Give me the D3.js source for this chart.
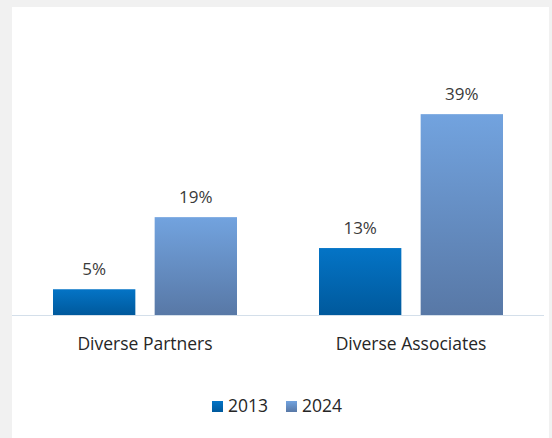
<!DOCTYPE html>
<html>
<head>
<meta charset="utf-8">
<script src="https://cdn.jsdelivr.net/npm/d3@7"></script>
<style>
  html, body { margin: 0; padding: 0; background: #f1f1f1; }
  #chart { position: absolute; left: 12px; top: 7px; width: 537px; height: 431px; background: #fff; }
  svg { display: block; font-family: "Open Sans", "Noto Sans", sans-serif; }
</style>
</head>
<body>
<div id="chart"></div>
<script>
// chart values
const categories = ["Diverse Partners", "Diverse Associates"];
const seriesNames = ["2013", "2024"];
const values2013 = [5, 13];
const values2024 = [19, 39];
const labels2013 = ["5%", "13%"];
const labels2024 = ["19%", "39%"];

const width = 537;
const height = 431;
const baseline = 308;

// bar colours (top, bottom of gradient)
const colors = {
  "2013": ["#0474c6", "#00599c"],
  "2024": ["#72a3df", "#5878a6"]
};

const svg = d3.select("#chart")
  .append("svg")
  .attr("width", width)
  .attr("height", height);

// gradients
const defs = svg.append("defs");
seriesNames.forEach((s) => {
  const g = defs.append("linearGradient")
    .attr("id", "grad" + s)
    .attr("x1", 0).attr("y1", 0)
    .attr("x2", 0).attr("y2", 1);
  g.append("stop").attr("offset", "0%").attr("stop-color", colors[s][0]);
  g.append("stop").attr("offset", "100%").attr("stop-color", colors[s][1]);
});

// scales
const x0 = d3.scaleBand()
  .domain(categories)
  .range([0, 532]);

const x1 = d3.scaleBand()
  .domain(seriesNames)
  .range([41, 225])
  .paddingInner(0.19);

const y = d3.scaleLinear()
  .domain([0, 40])
  .range([baseline, baseline - 206]);

const data = [];
categories.forEach((c, i) => {
  data.push({ cat: c, series: "2013", value: values2013[i], label: labels2013[i] });
  data.push({ cat: c, series: "2024", value: values2024[i], label: labels2024[i] });
});

// bars
svg.selectAll("rect.bar")
  .data(data)
  .enter()
  .append("rect")
  .attr("class", "bar")
  .attr("x", (d) => x0(d.cat) + x1(d.series))
  .attr("y", (d) => y(d.value))
  .attr("width", x1.bandwidth())
  .attr("height", (d) => baseline - y(d.value))
  .attr("fill", (d) => "url(#grad" + d.series + ")");

// value labels
svg.selectAll("text.val")
  .data(data)
  .enter()
  .append("text")
  .attr("class", "val")
  .attr("x", (d) => x0(d.cat) + x1(d.series) + x1.bandwidth() / 2)
  .attr("y", (d) => y(d.value) - 14)
  .attr("text-anchor", "middle")
  .style("font-size", "17px")
  .style("fill", "#3a3a3a")
  .text((d) => d.label);

// x-axis line
svg.append("line")
  .attr("x1", 0)
  .attr("x2", 532)
  .attr("y1", baseline + 0.5)
  .attr("y2", baseline + 0.5)
  .attr("stroke", "#d4dfea")
  .attr("stroke-width", 1);

// category labels
svg.selectAll("text.cat")
  .data(categories)
  .enter()
  .append("text")
  .attr("class", "cat")
  .attr("x", (d) => x0(d) + x0.bandwidth() / 2)
  .attr("y", 343)
  .attr("text-anchor", "middle")
  .style("font-size", "17.5px")
  .style("fill", "#262626")
  .text((d) => d);

// legend
const legendX = [200, 274];
const legend = svg.selectAll("g.legend")
  .data(seriesNames)
  .enter()
  .append("g")
  .attr("class", "legend")
  .attr("transform", (d, i) => "translate(" + legendX[i] + ",394)");

legend.append("rect")
  .attr("width", 11)
  .attr("height", 11)
  .attr("fill", (d) => "url(#grad" + d + ")");

legend.append("text")
  .attr("x", 16)
  .attr("y", 11)
  .style("font-size", "17.5px")
  .style("fill", "#262626")
  .text((d) => d);
</script>
</body>
</html>
